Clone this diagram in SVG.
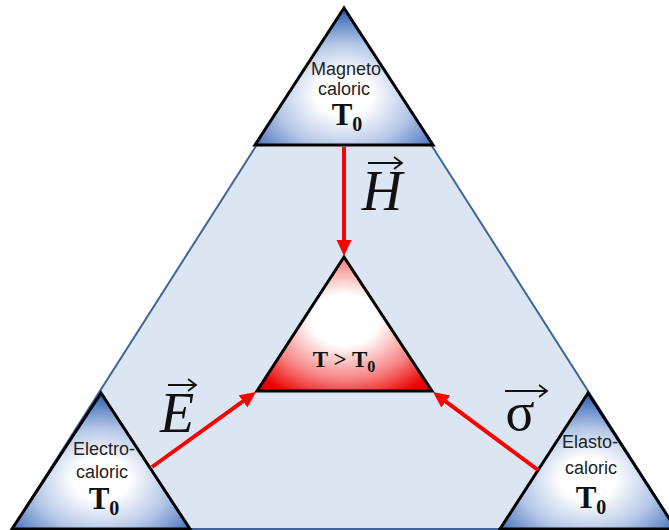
<svg xmlns="http://www.w3.org/2000/svg" width="669" height="530" viewBox="0 0 669 530">
<style>
.small{stroke:#000;stroke-width:3;stroke-linejoin:miter;fill:url(#blue)}
.lbl{font-family:"Liberation Sans",Arial,sans-serif;font-size:18px;fill:#222;text-anchor:middle}
.t0{font-family:"Liberation Serif","Times New Roman",serif;font-weight:bold;font-size:31px;fill:#111;text-anchor:middle}
.sub{font-size:20px}
.arr{stroke:#ff0000;stroke-width:4;fill:none;marker-end:url(#ah)}
.vec{font-family:"Liberation Serif","Times New Roman",serif;font-size:56px;fill:#111;text-anchor:middle}
.over{stroke:#111;stroke-width:1.8;fill:none}
</style>
<defs>
<radialGradient id="blue" cx="0.5" cy="0.66" r="0.62" fx="0.5" fy="0.62">
<stop offset="0" stop-color="#ffffff"/>
<stop offset="0.25" stop-color="#ffffff"/>
<stop offset="0.62" stop-color="#b4c7e7"/>
<stop offset="1" stop-color="#3f6cb8"/>
</radialGradient>
<radialGradient id="red" cx="0.5" cy="0.47" r="0.64">
<stop offset="0" stop-color="#ffffff"/>
<stop offset="0.3" stop-color="#ffffff"/>
<stop offset="0.7" stop-color="#f68080"/>
<stop offset="1" stop-color="#ec0000"/>
</radialGradient>
<marker id="ah" markerUnits="userSpaceOnUse" markerWidth="16" markerHeight="16" refX="2" refY="7.5" orient="auto">
<path d="M0,0 L16,7.5 L0,15 Z" fill="#ff0000"/>
</marker>
</defs>
<g id="frame">
<polygon points="344,8 12,529 676,529" fill="#dce6f2" stroke="#41659b" stroke-width="2"/>
</g>
<g id="magneto">
<polygon class="small" points="344,8 255,145 433,145"/>
<text class="lbl" x="346" y="75">Magneto</text>
<text class="lbl" x="344" y="95">caloric</text>
<text class="t0" x="347" y="125">T<tspan class="sub" dy="6">0</tspan></text>
</g>
<g id="electro">
<polygon class="small" points="101,393 12,529 190,529"/>
<text class="lbl" x="104" y="455">Electro-</text>
<text class="lbl" x="102" y="478">caloric</text>
<text class="t0" x="104" y="509">T<tspan class="sub" dy="6">0</tspan></text>
</g>
<g id="elasto">
<polygon class="small" points="588,393 500,529 676,529"/>
<text class="lbl" x="590" y="448">Elasto-</text>
<text class="lbl" x="591" y="474">caloric</text>
<text class="t0" x="591" y="508">T<tspan class="sub" dy="6">0</tspan></text>
</g>
<g id="result">
<polygon points="344,257 257,391 432,391" fill="url(#red)" stroke="#000" stroke-width="3"/>
<text class="t0" x="344" y="367" style="font-size:23px">T &gt; T<tspan style="font-size:16px" dy="5">0</tspan></text>
</g>
<g id="connectors">
<line class="arr" x1="344" y1="147" x2="344" y2="242"/>
<line class="arr" x1="152" y1="467" x2="244.6" y2="400.2"/>
<line class="arr" x1="538" y1="470" x2="444.2" y2="400.3"/>
</g>
<g id="labels">
<text class="vec" x="382" y="210" font-style="italic">H</text>
<path class="over" d="M368,163 H401 M394,157 L402,163 L394,169"/>
<text class="vec" x="177" y="432" font-style="italic">E</text>
<path class="over" d="M168,385 H195 M188,379 L196,385 L188,391"/>
<text class="vec" x="520" y="430" style="font-size:54px">σ</text>
<path class="over" d="M505,391 H547 M539,385 L547,391 L539,397"/>
</g>
</svg>
